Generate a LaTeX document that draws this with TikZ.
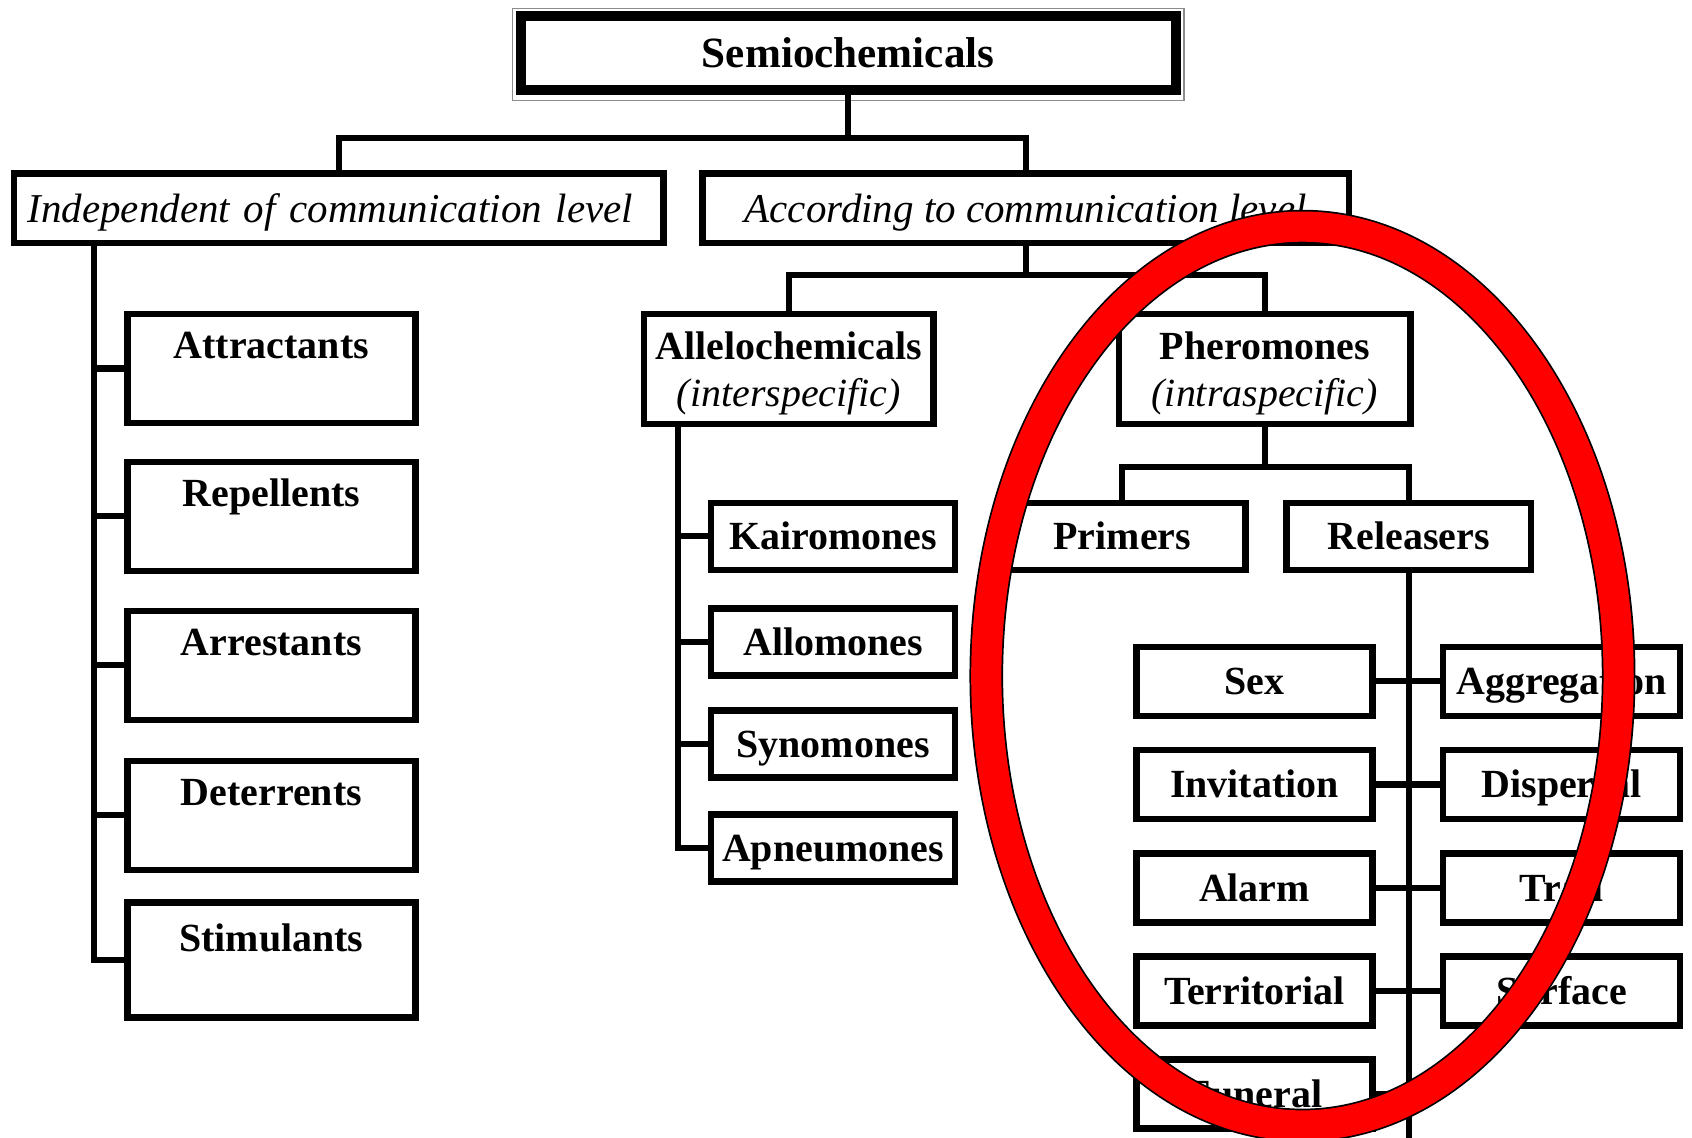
\documentclass[tikz,border=0pt]{standalone}
\usepackage{fontspec}
\setmainfont{Liberation Serif}
\begin{document}
\begin{tikzpicture}[x=0.5pt,y=-0.5pt,
  box/.style={draw, line width=3pt, inner sep=0pt, fill=white,
    font=\bfseries\fontsize{18.5}{22}\selectfont},
  onebox/.style={box, text height=12.3pt, text depth=0pt, minimum height=31pt},
  rowbox/.style={onebox, minimum height=32pt},
  sidebox/.style={box, anchor=north, minimum width=133.5pt,
    text height=20.5pt, text depth=30pt},
  headbox/.style={box, font=\itshape\fontsize{19}{22}\selectfont,
    minimum height=32pt, text height=13pt, text depth=0pt},
  conn/.style={line width=2.8pt},
  ringedge/.style={black, line width=15.6pt},
  ringfill/.style={red, line width=14pt}
]
\useasboundingbox (0,0) rectangle (1568,1054);
\clip (0,0) rectangle (1568,1054);
\fill[white] (0,0) rectangle (1568,1054);

% levels of the trunk
\coordinate (barA) at (0,128);
\coordinate (barB) at (0,255);
\coordinate (barC) at (0,433);
\coordinate (spineL) at (87,0);
\coordinate (spineA) at (628,0);
\coordinate (bottomR) at (0,1060);

% root
\node[box, line width=4.5pt, minimum width=303.5pt, minimum height=34.5pt,
      font=\bfseries\fontsize{20}{24}\selectfont, text height=13.3pt, text depth=0pt]
  (semio) at (786,49) {Semiochemicals};
\draw[black!45, line width=0.7pt]
  ([shift={(-3,-2)}]semio.north west) rectangle ([shift={(3,5)}]semio.south east);

% two criteria
\node[headbox, text width=288.5pt, inner xsep=6.25pt, align=left] (indep) at (314,193)
  {Independent of communication level};
\node[headbox, minimum width=299.5pt] (accord) at (950.5,193)
  {According to communication level};

\draw[conn] (semio.south) -- (semio.south |- barA);
\draw[conn] (indep.north) |- (semio.south |- barA) -| (accord.north);

% behavioural effects
\node[sidebox] (attr)   at (251.5,288) {Attractants};
\node[sidebox] (repel)  at (251.5,425) {Repellents};
\node[sidebox] (arrest) at (251.5,563) {Arrestants};
\node[sidebox] (deter)  at (251.5,702) {Deterrents};
\node[sidebox, line width=3.4pt, text height=22.8pt, text depth=30.5pt] (stim) at (251.5,833) {Stimulants};

\draw[conn] (spineL |- indep.south) |- (stim.west);
\foreach \n in {attr,repel,arrest,deter}
  \draw[conn] (\n.west) -- (\n.west -| spineL);

% communication level
\node[box, minimum width=134pt, minimum height=51pt, align=center] (allelo) at (731,342)
  {\rule{0pt}{17pt}Allelochemicals\\{\itshape\mdseries (interspecific)}};
\node[box, minimum width=135pt, minimum height=51pt, align=center] (phero) at (1172,342)
  {\rule{0pt}{17pt}Pheromones\\{\itshape\mdseries (intraspecific)}};

\draw[conn] (accord.south) -- (accord.south |- barB);
\draw[conn] (allelo.north) |- (accord.south |- barB) -| (phero.north);

% allelochemicals
\node[onebox, minimum width=113pt] (kairo) at (772,497)   {Kairomones};
\node[onebox, minimum width=113pt] (allo)  at (772,595)   {Allomones};
\node[onebox, minimum width=113pt] (syno)  at (772,689.5) {Synomones};
\node[onebox, minimum width=113pt] (apneu) at (772,786)   {Apneumones};

\draw[conn] (spineA |- allelo.south) |- (apneu.west);
\foreach \n in {kairo,allo,syno}
  \draw[conn] (\n.west) -- (\n.west -| spineA);

% pheromones
\node[onebox, minimum width=114pt]   (primers)   at (1040,497)   {Primers};
\node[onebox, minimum width=113.5pt] (releasers) at (1305.5,497) {Releasers};

\draw[conn] (phero.south) -- (phero.south |- barC);
\draw[conn] (primers.north) |- (phero.south |- barC) -| (releasers.north);

% releasers
\node[rowbox, minimum width=109.5pt] (sex)     at (1162.5,631.5) {Sex};
\node[rowbox, minimum width=109.5pt] (invit)   at (1162.5,727)   {Invitation};
\node[rowbox, minimum width=109.5pt] (alarm)   at (1162.5,823)   {Alarm};
\node[rowbox, minimum width=109.5pt] (territ)  at (1162.5,918.5) {Territorial};
\node[rowbox, minimum width=109.5pt] (funeral) at (1162.5,1014)  {Funeral};

\node[rowbox, minimum width=110pt] (aggreg)  at (1447,631.5) {Aggregation};
\node[rowbox, minimum width=110pt] (dispers) at (1447,727)   {Dispersal};
\node[rowbox, minimum width=110pt] (trail)   at (1447,823)   {Trail};
\node[rowbox, minimum width=110pt] (surface) at (1447,918.5) {Surface};

\draw[conn] (releasers.south) -- (releasers.south |- bottomR);
\draw[conn] (sex.east) -- (aggreg.west);
\draw[conn] (invit.east) -- (dispers.west);
\draw[conn] (alarm.east) -- (trail.west);
\draw[conn] (territ.east) -- (surface.west);
\draw[conn] (funeral.east) -- (funeral.east -| releasers.south);

% highlight ring
\draw[ringedge] (1207,626.5) ellipse [x radius=146.5pt, y radius=208.25pt];
\draw[ringfill] (1207,626.5) ellipse [x radius=146.5pt, y radius=208.25pt];
\end{tikzpicture}
\end{document}
